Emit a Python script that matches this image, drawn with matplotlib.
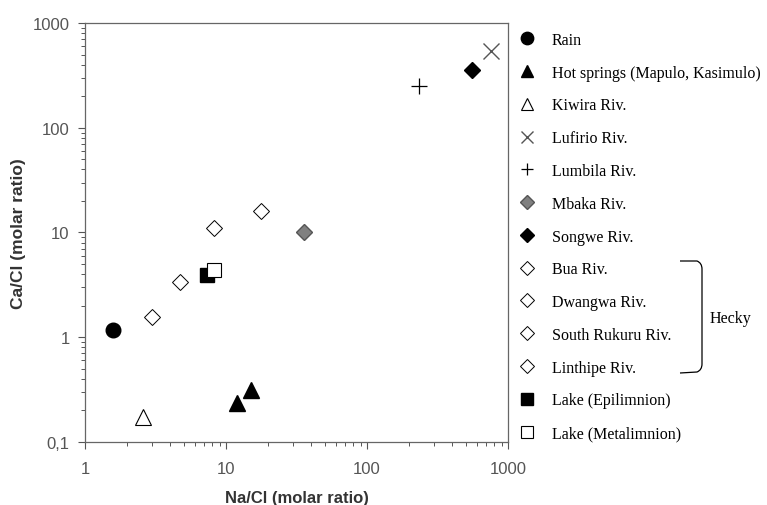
import matplotlib
matplotlib.use("Agg")
import matplotlib.pyplot as plt
from matplotlib.ticker import FixedLocator, FixedFormatter, LogLocator, NullFormatter
from matplotlib.path import Path
from matplotlib.patches import PathPatch

# data: Na/Cl (x) and Ca/Cl (y), molar ratios
labels = ['Rain', 'Hot springs (Mapulo, Kasimulo)', 'Kiwira Riv.', 'Lufirio Riv.',
          'Lumbila Riv.', 'Mbaka Riv.', 'Songwe Riv.', 'Bua Riv.', 'Dwangwa Riv.',
          'South Rukuru Riv.', 'Linthipe Riv.', 'Lake (Epilimnion)', 'Lake (Metalimnion)']
na_cl = [[1.59], [12.0, 15.0], [2.6], [755], [234], [36], [560],
         [2.97], [4.72], [8.26], [17.8], [7.37], [8.22]]
ca_cl = [[1.16], [0.234, 0.316], [0.175], [545], [248], [10.0], [356],
         [1.55], [3.34], [11.0], [15.9], [3.93], [4.42]]

# style per series: marker, size, face, edge, edge width
styles = [
    ('o', 10.5, 'black', 'black', 1.0),
    ('^', 11, 'black', 'black', 1.0),
    ('^', 11, 'white', 'black', 0.8),
    ('x', 11, 'none', '#555555', 1.0),
    ('+', 11, 'none', 'black', 0.9),
    ('D', 8.5, '#808080', '#555555', 1.0),
    ('D', 8.5, 'black', 'black', 1.0),
    ('D', 8.5, 'white', 'black', 0.7),
    ('D', 8.5, 'white', 'black', 0.7),
    ('D', 8.5, 'white', 'black', 0.7),
    ('D', 8.5, 'white', 'black', 0.7),
    ('s', 10, 'black', 'black', 1.0),
    ('s', 10, 'white', 'black', 0.8),
]

fig = plt.figure(figsize=(7.67, 5.06), dpi=100)
ax = fig.add_axes([0.1108, 0.1245, 0.5515, 0.8281])

handles = []
for lab, xs, ys, (m, ms, fc, ec, lw) in zip(labels, na_cl, ca_cl, styles):
    h, = ax.plot(xs, ys, linestyle='none', marker=m, markersize=ms,
                 markerfacecolor=fc, markeredgecolor=ec, markeredgewidth=lw,
                 label=lab, zorder=3)
    handles.append(h)

ax.set_xscale('log')
ax.set_yscale('log')
ax.set_xlim(1, 1000)
ax.set_ylim(0.1, 1000)

ax.xaxis.set_major_locator(FixedLocator([1, 10, 100, 1000]))
ax.xaxis.set_major_formatter(FixedFormatter(['1', '10', '100', '1000']))
ax.yaxis.set_major_locator(FixedLocator([0.1, 1, 10, 100, 1000]))
ax.yaxis.set_major_formatter(FixedFormatter(['0,1', '1', '10', '100', '1000']))
for axis in (ax.xaxis, ax.yaxis):
    axis.set_minor_locator(LogLocator(base=10, subs=range(2, 10)))
    axis.set_minor_formatter(NullFormatter())

ax.tick_params(which='major', direction='out', length=5, width=0.8,
               labelsize=12, labelcolor='#555555', colors='#555555')
ax.tick_params(axis='y', which='major', pad=6)
ax.tick_params(axis='x', which='major', pad=9)
ax.tick_params(which='minor', direction='out', length=3, width=0.7, colors='#555555')
for s in ax.spines.values():
    s.set_color('#666666')
    s.set_linewidth(0.9)

ax.set_xlabel('Na/Cl (molar ratio)', fontsize=12, fontweight='bold',
              family='Liberation Sans', color='#333333', labelpad=10)
ax.set_ylabel('Ca/Cl (molar ratio)', fontsize=12.5, fontweight='bold',
              family='Liberation Sans', color='#333333', labelpad=5)
for t in ax.get_xticklabels() + ax.get_yticklabels():
    t.set_family('Liberation Sans')

leg = ax.legend(handles=handles, loc='upper left', bbox_to_anchor=(0.675, 0.935),
                bbox_transform=fig.transFigure, frameon=False,
                prop={'family': 'Liberation Serif', 'size': 11.5},
                labelspacing=1.05, handlelength=1.2, handletextpad=0.95,
                borderaxespad=0, borderpad=0, markerscale=0.85)

# bracket grouping the Hecky rivers
def fx(px):
    return px / 767.0

def fy(py):
    return 1 - py / 506.0

verts = [(fx(680), fy(262)), (fx(697), fy(262)), (fx(702), fy(264)), (fx(702), fy(270)),
         (fx(702), fy(365)), (fx(702), fy(371)), (fx(697), fy(373)), (fx(680), fy(374))]
codes = [Path.MOVETO, Path.LINETO, Path.CURVE3, Path.CURVE3,
         Path.LINETO, Path.CURVE3, Path.CURVE3, Path.LINETO]
fig.patches.append(PathPatch(Path(verts, codes), transform=fig.transFigure,
                             fill=False, edgecolor='black', linewidth=0.9))
fig.text(fx(710), fy(319), 'Hecky', family='Liberation Serif', fontsize=11.5,
         va='center', ha='left')

fig.savefig('out.png', dpi=100)
